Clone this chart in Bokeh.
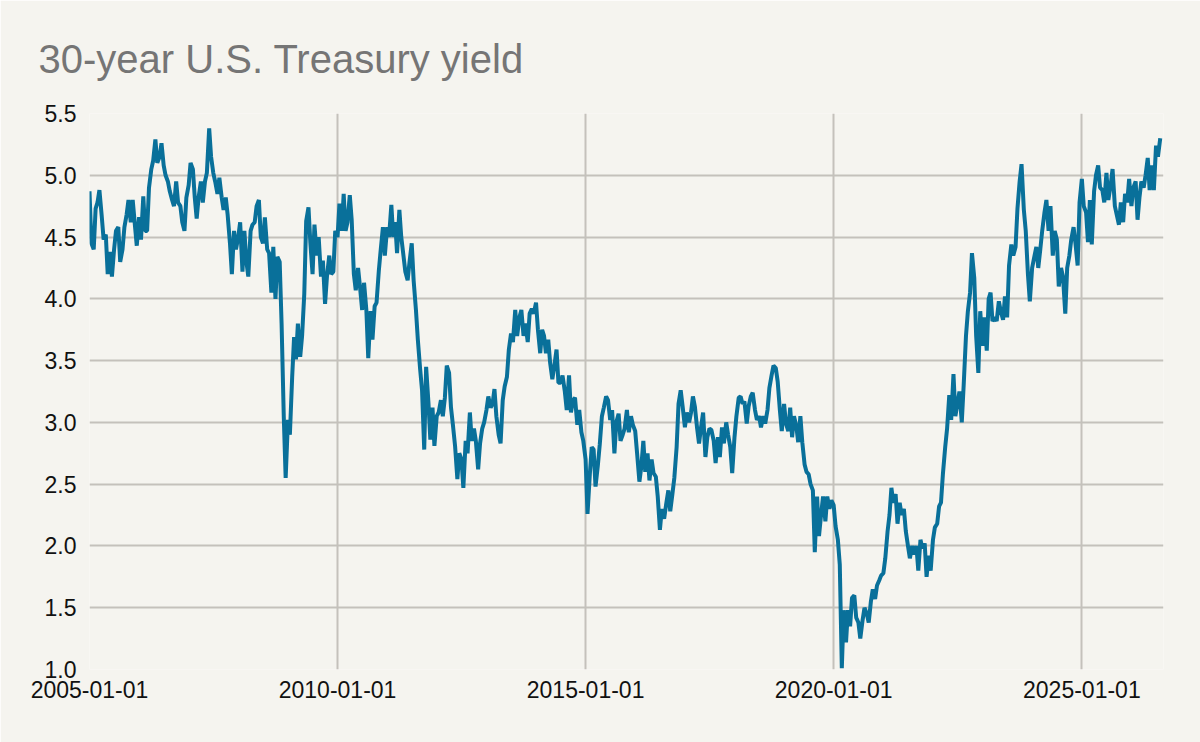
import pandas as pd
from bokeh.plotting import figure
from bokeh.models import ColumnDataSource, FixedTicker, DatetimeTickFormatter, PrintfTickFormatter, Range1d
from bokeh.embed import file_html
from bokeh.resources import INLINE

# 30-year U.S. Treasury yield, semi-monthly readings (1st and 15th of each month), in percent
y2005 = [4.87, 4.45, 4.40, 4.73, 4.78, 4.88, 4.67, 4.48, 4.52, 4.20, 4.38, 4.18,
         4.40, 4.55, 4.58, 4.30, 4.40, 4.58, 4.68, 4.80, 4.62, 4.80, 4.60, 4.43]
y2006 = [4.66, 4.48, 4.83, 4.55, 4.55, 4.90, 5.05, 5.12, 5.29, 5.10, 5.15, 5.26,
         5.08, 5.00, 4.95, 4.87, 4.80, 4.75, 4.95, 4.78, 4.75, 4.62, 4.55, 4.82]
y2007 = [4.92, 5.10, 5.05, 4.82, 4.65, 4.82, 4.95, 4.78, 4.95, 5.02, 5.38, 5.15,
         5.02, 4.95, 4.85, 4.98, 4.82, 4.72, 4.82, 4.68, 4.45, 4.20, 4.55, 4.40]
y2008 = [4.50, 4.62, 4.22, 4.55, 4.30, 4.18, 4.55, 4.60, 4.62, 4.75, 4.80, 4.50,
         4.45, 4.66, 4.40, 4.37, 4.05, 4.42, 4.00, 4.34, 4.30, 3.80, 3.05, 2.55]
y2009 = [3.02, 2.90, 3.37, 3.69, 3.51, 3.80, 3.53, 3.70, 4.04, 4.63, 4.74, 4.45,
         4.20, 4.60, 4.35, 4.50, 4.18, 4.31, 3.96, 4.18, 4.35, 4.20, 4.22, 4.55]
y2010 = [4.50, 4.77, 4.55, 4.85, 4.55, 4.62, 4.84, 4.64, 4.20, 4.07, 4.25, 4.10,
         3.91, 4.13, 3.91, 3.52, 3.90, 3.67, 3.94, 3.97, 4.23, 4.40, 4.58, 4.35]
y2011 = [4.58, 4.50, 4.76, 4.50, 4.62, 4.37, 4.72, 4.50, 4.35, 4.22, 4.15, 4.30,
         4.45, 4.15, 3.91, 3.67, 3.43, 3.26, 2.78, 3.45, 3.16, 2.86, 3.12, 2.81]
y2012 = [3.05, 3.08, 3.18, 3.05, 3.20, 3.46, 3.40, 3.12, 2.96, 2.81, 2.54, 2.75,
         2.70, 2.47, 2.85, 2.75, 3.08, 2.85, 2.95, 2.85, 2.62, 2.83, 2.95, 3.00]
y2013 = [3.10, 3.21, 3.12, 3.15, 3.27, 3.05, 2.90, 2.83, 3.18, 3.29, 3.37, 3.59,
         3.72, 3.65, 3.91, 3.70, 3.85, 3.91, 3.70, 3.80, 3.65, 3.88, 3.92, 3.88]
y2014 = [3.97, 3.75, 3.56, 3.75, 3.70, 3.56, 3.67, 3.48, 3.35, 3.45, 3.59, 3.32,
         3.32, 3.38, 3.25, 3.10, 3.38, 3.08, 3.18, 3.20, 2.98, 3.10, 2.92, 2.85]
y2015 = [2.70, 2.26, 2.58, 2.80, 2.78, 2.48, 2.65, 2.82, 3.05, 3.12, 3.21, 3.18,
         3.02, 3.10, 2.75, 3.00, 3.07, 2.85, 2.90, 2.95, 3.10, 2.92, 3.05, 2.98]
y2016 = [2.93, 2.75, 2.52, 2.64, 2.85, 2.60, 2.75, 2.53, 2.70, 2.59, 2.56, 2.40,
         2.13, 2.30, 2.22, 2.33, 2.45, 2.28, 2.42, 2.55, 2.80, 3.15, 3.26, 3.13]
y2017 = [2.96, 3.08, 3.00, 3.08, 3.21, 3.13, 2.95, 2.83, 2.97, 3.08, 2.72, 2.88,
         2.95, 2.94, 2.85, 2.67, 2.88, 2.72, 2.96, 2.83, 3.00, 2.90, 2.80, 2.59]
y2018 = [2.88, 3.05, 3.20, 3.21, 3.15, 3.17, 2.99, 3.13, 3.21, 3.24, 3.10, 3.02,
         3.05, 2.96, 3.05, 2.99, 3.10, 3.28, 3.38, 3.46, 3.44, 3.33, 3.10, 2.93]
y2019 = [3.15, 2.99, 2.93, 3.12, 2.88, 3.05, 2.97, 2.84, 3.05, 2.84, 2.66, 2.60,
         2.58, 2.50, 2.45, 1.95, 2.40, 2.08, 2.26, 2.40, 2.20, 2.40, 2.30, 2.37]
y2020 = [2.33, 2.16, 2.05, 1.85, 1.01, 1.48, 1.22, 1.48, 1.35, 1.58, 1.60, 1.42,
         1.38, 1.25, 1.40, 1.50, 1.45, 1.38, 1.55, 1.65, 1.57, 1.68, 1.72, 1.76]
y2021 = [1.78, 1.90, 2.12, 2.25, 2.47, 2.35, 2.42, 2.18, 2.35, 2.25, 2.30, 2.12,
         2.00, 1.90, 2.00, 1.93, 2.00, 1.80, 2.05, 1.98, 2.02, 1.75, 1.92, 1.80]
y2022 = [2.05, 2.15, 2.18, 2.32, 2.35, 2.58, 2.80, 2.95, 3.22, 3.02, 3.39, 3.05,
         3.16, 3.25, 3.00, 3.30, 3.70, 3.90, 4.05, 4.37, 4.17, 3.70, 3.40, 3.90]
y2023 = [3.62, 3.85, 3.58, 4.00, 4.05, 3.82, 3.85, 3.82, 3.98, 3.90, 3.83, 4.02,
         3.85, 4.27, 4.44, 4.35, 4.42, 4.73, 4.95, 5.09, 4.72, 4.55, 4.20, 3.98]
y2024 = [4.25, 4.33, 4.42, 4.25, 4.40, 4.55, 4.70, 4.80, 4.55, 4.75, 4.35, 4.55,
         4.48, 4.10, 4.25, 4.18, 3.88, 4.25, 4.35, 4.48, 4.58, 4.45, 4.27, 4.78]
y2025 = [4.97, 4.75, 4.70, 4.46, 4.80, 4.44, 4.87, 5.00, 5.08, 4.90, 4.88, 4.78,
         5.02, 4.80, 4.92, 5.05, 4.75, 4.68, 4.60, 4.78, 4.62, 4.85, 4.78, 4.97]
y2026 = [4.75, 4.90, 4.95, 4.64, 4.82, 4.95, 4.90, 5.00, 5.14, 4.88, 5.08, 4.88,
         5.24, 5.15, 5.30]

x_tick_dates = ["2005-01-01", "2010-01-01", "2015-01-01", "2020-01-01", "2025-01-01"]
y_ticks = [1.0, 1.5, 2.0, 2.5, 3.0, 3.5, 4.0, 4.5, 5.0, 5.5]
title_text = "30-year U.S. Treasury yield"

yields = (y2005 + y2006 + y2007 + y2008 + y2009 + y2010 + y2011 + y2012 + y2013 +
          y2014 + y2015 + y2016 + y2017 + y2018 + y2019 + y2020 + y2021 + y2022 +
          y2023 + y2024 + y2025 + y2026)
dates = pd.date_range(start="2005-01-01", periods=len(yields), freq="SMS")
source = ColumnDataSource(data=dict(date=dates, yld=yields))

BG = "#f5f4ef"
GRID = "#c4c1bb"
LINE = "#09709a"
FONT = "Liberation Sans"

p = figure(width=1200, height=742, x_axis_type="datetime",
           output_backend="svg", toolbar_location=None, title=title_text,
           x_range=Range1d(pd.Timestamp("2005-01-01"), pd.Timestamp("2026-08-25")),
           y_range=Range1d(1.0, 5.5))
p.min_border_left = 89
p.min_border_right = 37
p.min_border_top = 113
p.min_border_bottom = 73
p.background_fill_color = BG
p.border_fill_color = BG
p.outline_line_color = None

p.title.text_font = FONT
p.title.text_font_size = "40px"
p.title.text_font_style = "normal"
p.title.text_color = "#757575"
p.title.align = "left"
p.title.offset = -51
p.title.standoff = 66

p.line(x="date", y="yld", source=source, line_width=4, line_color=LINE)

xt = FixedTicker(ticks=[pd.Timestamp(d).value / 1e6 for d in x_tick_dates])
yt = FixedTicker(ticks=y_ticks)
p.xaxis.ticker = xt
p.yaxis.ticker = yt
p.xgrid.ticker = xt
p.ygrid.ticker = yt
p.xaxis.formatter = DatetimeTickFormatter(years="%Y-%m-%d", months="%Y-%m-%d", days="%Y-%m-%d")
p.yaxis.formatter = PrintfTickFormatter(format="%.1f")

for ax in (p.xaxis, p.yaxis):
    ax.axis_line_color = None
    ax.major_tick_line_color = None
    ax.minor_tick_line_color = None
    ax.major_tick_in = 0
    ax.major_tick_out = 0
    ax.minor_tick_out = 0
    ax.major_label_text_font = FONT
    ax.major_label_text_font_size = "23px"
    ax.major_label_text_color = "#111111"
p.yaxis.major_label_standoff = 13
p.xaxis.major_label_standoff = 11

for g in (p.xgrid, p.ygrid):
    g.grid_line_color = GRID
    g.grid_line_width = 2

open("out.html", "w").write(file_html(p, INLINE))
